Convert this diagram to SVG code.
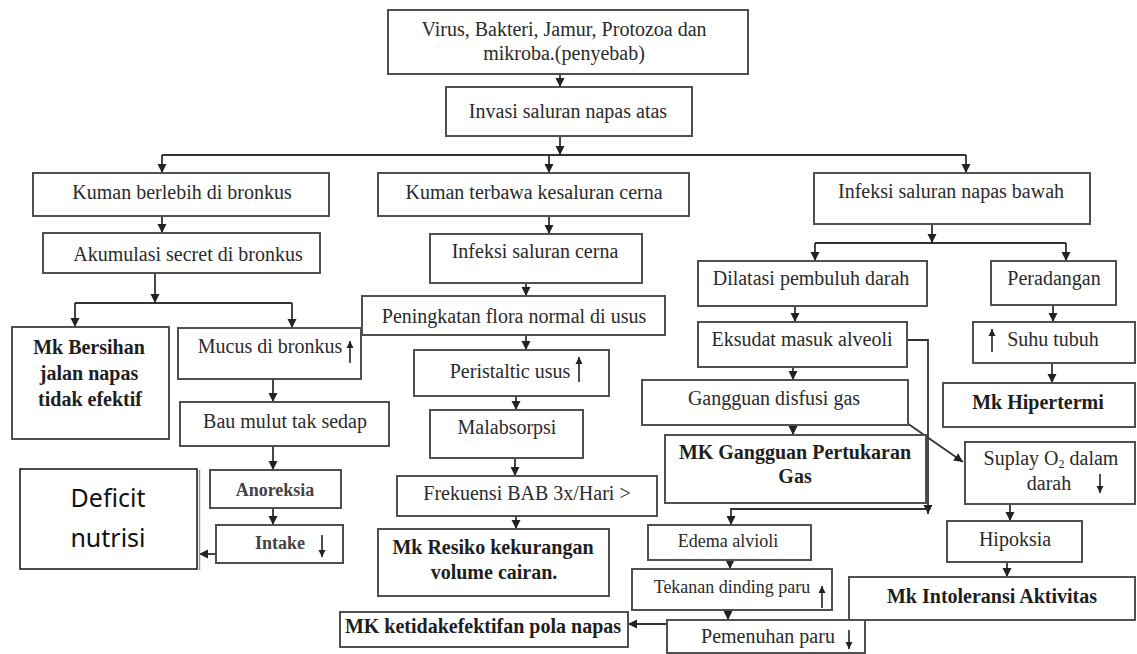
<svg xmlns="http://www.w3.org/2000/svg" width="1137" height="654" viewBox="0 0 1137 654">
<defs>
<marker id="ah" markerWidth="10" markerHeight="10" refX="9" refY="5" orient="auto" markerUnits="userSpaceOnUse"><path d="M0,0.5 L9,5 L0,9.5 z" fill="#222"/></marker>
<marker id="sa" markerWidth="8" markerHeight="8" refX="7" refY="4" orient="auto" markerUnits="userSpaceOnUse"><path d="M0,0.5 L7,4 L0,7.5 z" fill="#222"/></marker>
<style>
.b{fill:#fff;stroke:#505050;stroke-width:2}
.t{font-family:"Liberation Serif","Times New Roman",serif;font-size:20px;fill:#2a2a2a;text-anchor:middle}
.s{font-size:18px}
.k{font-weight:bold;fill:#1e1e1e}
.g{fill:#444}
.c{fill:none;stroke:#333;stroke-width:1.8;marker-end:url(#ah)}
.l{fill:none;stroke:#333;stroke-width:1.8}
.i{fill:none;stroke:#222;stroke-width:1.6;marker-end:url(#sa)}
</style>
</defs>
<rect width="1137" height="654" fill="#fff"/>
<g id="connectors">
<path class="c" d="M560,74 V87"/>
<path class="c" d="M560,136 V155"/>
<path class="l" d="M162,155 H966"/>
<path class="c" d="M162,155 V173"/>
<path class="c" d="M549,155 V173"/>
<path class="c" d="M966,155 V173"/>
<path class="c" d="M162,216 V233"/>
<path class="c" d="M155,273 V303"/>
<path class="l" d="M75,303 H292"/>
<path class="c" d="M75,303 V327"/>
<path class="c" d="M292,303 V328"/>
<path class="c" d="M549,216 V234"/>
<path class="c" d="M526,283 V296"/>
<path class="c" d="M526,335 V350"/>
<path class="c" d="M516,396 V410"/>
<path class="c" d="M515,458 V476"/>
<path class="c" d="M516,516 V529"/>
<path class="c" d="M273,379 V402"/>
<path class="c" d="M273,446 V470"/>
<path class="c" d="M273,508 V525"/>
<path class="c" d="M224,554 H199"/>
<path class="c" d="M932,224 V243"/>
<path class="l" d="M815,243 H1066"/>
<path class="c" d="M815,243 V261"/>
<path class="c" d="M1066,243 V261"/>
<path class="c" d="M795,306 V322"/>
<path class="c" d="M793,367 V380"/>
<path class="c" d="M793,425 V435"/>
<path class="c" d="M907,340 H928 V514"/>
<path class="c" d="M928,509 H731 V525"/>
<path class="c" d="M907,423 L963,462"/>
<path class="c" d="M1053,305 V322"/>
<path class="c" d="M1052,363 V383"/>
<path class="c" d="M1010,504 V521"/>
<path class="c" d="M1007,562 V577"/>
<path class="c" d="M730,560 V569"/>
<path class="c" d="M728,610 V620"/>
<path class="c" d="M667,624 H628"/>
</g>
<g id="n1"><rect class="b" x="388" y="10" width="360" height="64"/><text class="t" x="564" y="36">Virus, Bakteri, Jamur, Protozoa dan</text><text class="t" x="564" y="60">mikroba.(penyebab)</text></g>
<g id="n2"><rect class="b" x="446" y="87" width="246" height="49"/><text class="t" x="568" y="118">Invasi saluran napas atas</text></g>
<g id="n3"><rect class="b" x="33" y="173" width="296" height="43"/><text class="t" x="182" y="199">Kuman berlebih di bronkus</text></g>
<g id="n4"><rect class="b" x="378" y="173" width="311" height="43"/><text class="t" x="534" y="199">Kuman terbawa kesaluran cerna</text></g>
<g id="n5"><rect class="b" x="814" y="173" width="276" height="51"/><text class="t" x="951" y="198">Infeksi saluran napas bawah</text></g>
<g id="n6"><rect class="b" x="43" y="233" width="277" height="40"/><text class="t" x="188" y="261">Akumulasi secret di bronkus</text></g>
<g id="n7"><rect class="b" x="430" y="234" width="212" height="49"/><text class="t" x="535" y="258">Infeksi saluran cerna</text></g>
<g id="n8"><rect class="b" x="698" y="261" width="229" height="45"/><text class="t" x="811" y="285">Dilatasi pembuluh darah</text></g>
<g id="n9"><rect class="b" x="991" y="261" width="125" height="44"/><text class="t" x="1054" y="285">Peradangan</text></g>
<g id="n10"><rect class="b" x="12" y="327" width="157" height="112"/><text class="t k" x="89" y="354">Mk Bersihan</text><text class="t k" x="89" y="380">jalan napas</text><text class="t k" x="90" y="406">tidak efektif</text></g>
<g id="n12"><rect class="b" x="362" y="296" width="303" height="39"/><text class="t" x="514" y="323">Peningkatan flora normal di usus</text></g>
<g id="n11"><rect class="b" x="178" y="328" width="183" height="51"/><text class="t" x="270" y="353">Mucus di bronkus</text><path class="i" d="M350,363 V341"/></g>
<g id="n13"><rect class="b" x="414" y="350" width="195" height="46"/><text class="t" x="510" y="378">Peristaltic usus</text><path class="i" d="M579,382 V357"/></g>
<g id="n14"><rect class="b" x="698" y="322" width="209" height="45"/><text class="t" x="802" y="346">Eksudat masuk alveoli</text></g>
<g id="n15"><rect class="b" x="973" y="322" width="162" height="41"/><text class="t" x="1053" y="346">Suhu tubuh</text><path class="i" d="M992,352 V329"/></g>
<g id="n16"><rect class="b" x="180" y="402" width="209" height="44"/><text class="t" x="285" y="428">Bau mulut tak sedap</text></g>
<g id="n17"><rect class="b" x="642" y="380" width="266" height="45"/><text class="t" x="774" y="405">Gangguan disfusi gas</text></g>
<g id="n18"><rect class="b" x="943" y="383" width="192" height="44"/><text class="t k" x="1038" y="409">Mk Hipertermi</text></g>
<g id="n19"><rect class="b" x="430" y="410" width="153" height="48"/><text class="t" x="507" y="434">Malabsorpsi</text></g>
<g id="n20"><rect class="b" x="665" y="435" width="261" height="68"/><text class="t k" x="795" y="459">MK Gangguan Pertukaran</text><text class="t k" x="795" y="483">Gas</text></g>
<g id="n21"><rect class="b" x="965" y="442" width="170" height="62"/><text class="t" x="1051" y="465">Suplay O<tspan font-size="12" dy="3">2</tspan><tspan dy="-3"> dalam</tspan></text><text class="t" x="1049" y="490">darah</text><path class="i" d="M1100,474 V493"/></g>
<g id="n22"><rect class="b" x="210" y="470" width="131" height="38"/><text class="t s k g" x="275" y="496">Anoreksia</text></g>
<g id="n23"><rect class="b" x="397" y="476" width="260" height="40"/><text class="t" x="527" y="500">Frekuensi BAB 3x/Hari &gt;</text></g>
<g id="n24"><rect class="b" x="216" y="525" width="127" height="38"/><text class="t s k g" x="280" y="549">Intake</text><path class="i" d="M322,535 V557"/></g>
<g id="n25"><rect x="20" y="469" width="177" height="100" fill="#fff" stroke="#111" stroke-width="1.5"/><path d="M199.5,470 V570" stroke="#999" stroke-width="1.5"/><text x="108" y="507" font-family="'Noto Sans','Open Sans',sans-serif" font-size="25" fill="#111" text-anchor="middle">Deficit</text><text x="108" y="547" font-family="'Noto Sans','Open Sans',sans-serif" font-size="25" fill="#111" text-anchor="middle">nutrisi</text></g>
<g id="n26"><rect class="b" x="378" y="529" width="231" height="67"/><text class="t k" x="493" y="554">Mk Resiko kekurangan</text><text class="t k" x="494" y="579">volume cairan.</text></g>
<g id="n27"><rect class="b" x="648" y="525" width="163" height="35"/><text class="t s" x="728" y="547">Edema alvioli</text></g>
<g id="n28"><rect class="b" x="947" y="521" width="135" height="41"/><text class="t" x="1015" y="546">Hipoksia</text></g>
<g id="n29"><rect class="b" x="632" y="569" width="200" height="41"/><text class="t s" x="732" y="593">Tekanan dinding paru</text><path class="i" d="M822,608 V586"/></g>
<g id="n30"><rect class="b" x="849" y="577" width="286" height="43"/><text class="t k" x="992" y="603">Mk Intoleransi Aktivitas</text></g>
<g id="n31"><rect class="b" x="340" y="612" width="288" height="35"/><text class="t k" x="483" y="633" font-size="18.5">MK ketidakefektifan pola napas</text></g>
<g id="n32"><rect class="b" x="667" y="620" width="198" height="33"/><text class="t" x="768" y="643" font-size="19">Pemenuhan paru</text><path class="i" d="M849,630 V649"/></g>
</svg>
